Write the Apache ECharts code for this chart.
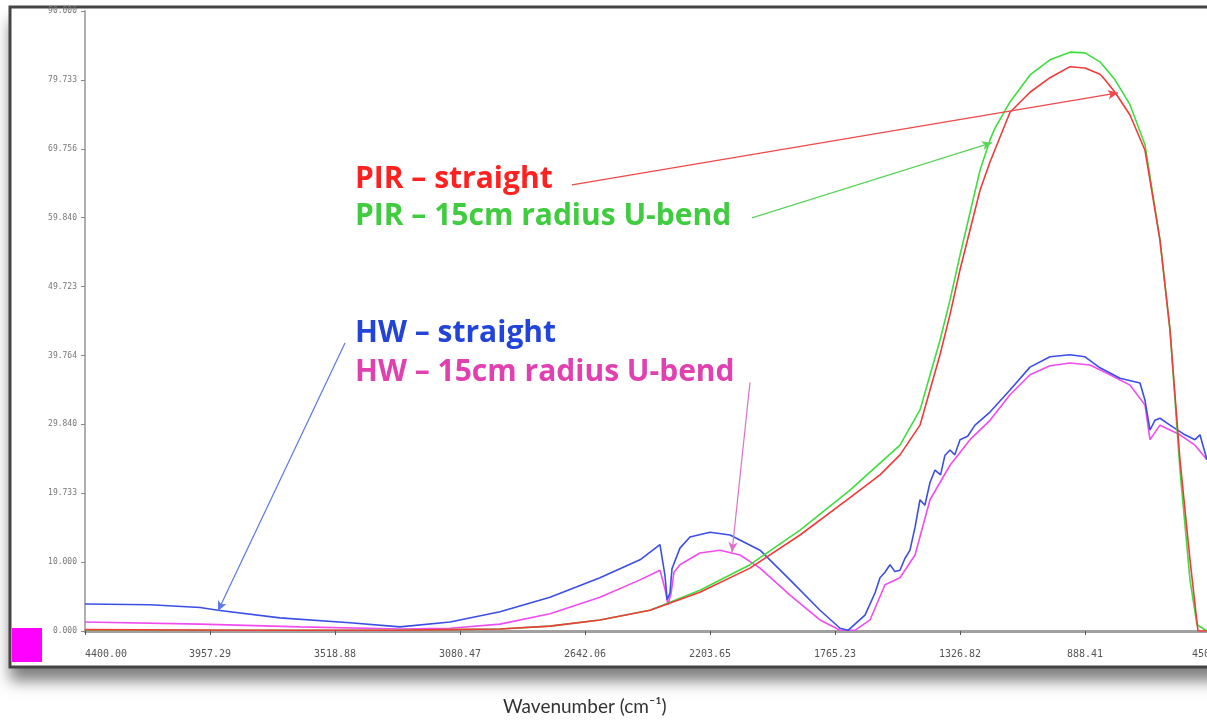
<!DOCTYPE html>
<html>
<head>
<meta charset="utf-8">
<script src="https://cdn.jsdelivr.net/npm/echarts@6/dist/echarts.min.js"></script>
<style>
  html, body { margin: 0; padding: 0; background: #ffffff; }
  #main { width: 1207px; height: 721px; }
</style>
</head>
<body>
<div id="main"></div>
<script>
// tick positions (wavenumber, cm-1) and the labels the instrument printed
var xTickValues = [450, 888.41, 1326.82, 1765.23, 2203.64, 2642.05, 3080.46, 3518.87, 3957.28, 4395.69];
var xTickLabels = ['450.00', '888.41', '1326.82', '1765.23', '2203.65', '2642.06', '3080.47', '3518.88', '3957.29', '4400.00'];
var yTickValues = [0, 9.973, 19.947, 29.92, 39.893, 49.867, 59.84, 69.813, 79.787, 89.76];
var yTickLabels = ['0.000', '10.000', '19.733', '29.840', '39.764', '49.723', '59.840', '69.756', '79.733', '90.000'];

// HW - straight  [wavenumber, value]
var hwStraight = [
  [4395.7, 3.9], [4167.7, 3.8], [3992.3, 3.4], [3929.2, 3.0], [3711.8, 1.9], [3466.3, 1.2],
  [3291.0, 0.6], [3115.3, 1.3], [2940.2, 2.8], [2764.8, 4.9], [2589.5, 7.7], [2449.2, 10.3],
  [2379.1, 12.5], [2372.1, 12.7], [2361.5, 8.0], [2354.0, 4.5], [2344.0, 5.5], [2337.0, 9.0],
  [2309.0, 12.0], [2273.9, 13.6], [2203.6, 14.3], [2133.5, 13.9], [2028.3, 11.7], [1923.0, 7.4],
  [1817.8, 3.0], [1747.6, 0.4], [1719.6, 0.1], [1660.0, 2.3], [1625.0, 5.5], [1607.4, 7.7],
  [1590.0, 8.5], [1572.3, 9.6], [1555.0, 8.6], [1537.3, 8.8], [1520.0, 10.5], [1502.2, 11.7],
  [1484.6, 15.0], [1467.1, 19.0], [1450.0, 18.2], [1432.0, 21.5], [1414.5, 23.3], [1395.0, 22.6],
  [1380.0, 25.4], [1361.9, 26.2], [1345.0, 25.5], [1326.8, 27.7], [1300.0, 28.2], [1274.2, 29.8],
  [1221.6, 31.7], [1151.4, 34.9], [1081.3, 38.2], [1011.2, 39.7], [941.0, 40.0], [888.4, 39.7],
  [835.8, 38.1], [765.7, 36.6], [695.6, 35.9], [678.0, 33.4], [660.5, 29.1], [643.0, 30.5],
  [625.4, 30.8], [590.3, 29.8], [537.7, 28.4], [502.7, 27.7], [485.2, 28.4], [460.6, 24.8]
];

// HW - 15cm radius U-bend
var hwBend = [
  [4395.7, 1.3], [3992.3, 1.0], [3641.6, 0.6], [3291.0, 0.3], [3115.3, 0.4], [2940.2, 1.0],
  [2764.8, 2.5], [2589.5, 4.9], [2449.2, 7.4], [2379.1, 8.8], [2372.1, 9.0], [2361.0, 6.0],
  [2351.0, 3.8], [2340.0, 5.5], [2330.0, 8.5], [2309.0, 9.6], [2238.9, 11.3], [2168.6, 11.7],
  [2098.4, 11.0], [2028.3, 9.1], [1923.0, 5.2], [1817.8, 1.6], [1747.6, 0.1], [1695.1, 0.1],
  [1642.4, 1.6], [1589.9, 6.7], [1537.3, 7.7], [1484.6, 11.0], [1432.0, 19.0], [1361.9, 24.0],
  [1291.7, 27.7], [1221.6, 30.5], [1151.4, 34.2], [1081.3, 37.1], [1011.2, 38.4], [941.0, 38.8],
  [870.9, 38.5], [800.8, 37.1], [730.6, 35.6], [678.0, 32.7], [660.5, 27.7], [625.4, 29.8],
  [555.3, 28.4], [502.7, 26.9], [460.6, 24.8]
];

// PIR - straight
var pirStraight = [
  [4395.7, 0.2], [3800.0, 0.1], [3300.0, 0.1], [3115.3, 0.2], [2940.2, 0.3], [2764.8, 0.7],
  [2589.5, 1.6], [2414.1, 3.0], [2238.9, 5.6], [2063.4, 9.1], [1887.9, 13.9], [1712.6, 19.3],
  [1607.4, 22.6], [1537.3, 25.5], [1467.1, 29.8], [1396.9, 40.0], [1361.9, 45.8], [1326.8, 52.3],
  [1256.6, 63.8], [1221.6, 67.9], [1151.4, 75.1], [1081.3, 78.0], [1011.2, 80.1], [941.0, 81.7],
  [888.4, 81.5], [835.8, 80.6], [818.3, 79.8], [783.2, 78.0], [730.6, 74.7], [678.0, 69.6],
  [625.4, 56.6], [590.3, 43.6], [555.3, 24.8], [520.2, 10.3], [492.1, 0.0], [460.6, 0.0]
];

// PIR - 15cm radius U-bend
var pirBend = [
  [4395.7, 0.1], [3300.0, 0.1], [3115.3, 0.2], [2940.2, 0.3], [2764.8, 0.7], [2589.5, 1.6],
  [2414.1, 3.0], [2238.9, 5.9], [2063.4, 9.6], [1887.9, 14.6], [1712.6, 20.4], [1537.3, 26.9],
  [1467.1, 32.0], [1396.9, 42.1], [1361.9, 47.9], [1326.8, 54.4], [1256.6, 66.7], [1221.6, 71.1],
  [1204.0, 72.8], [1151.4, 76.6], [1081.3, 80.5], [1011.2, 82.7], [941.0, 83.8], [888.4, 83.7],
  [835.8, 82.4], [783.2, 79.8], [730.6, 76.2], [678.0, 70.4], [625.4, 56.6], [590.3, 43.6],
  [555.3, 23.3], [520.2, 7.4], [495.7, 0.9], [460.6, 0.0]
];

// annotation arrows, start -> tip, in data units
var arrowPirStraight = [[2687.6, 64.6], [772.7, 77.9]];
var arrowPirBend = [[2056.3, 59.8], [1214.5, 70.7]];
var arrowHwStraight = [[3483.8, 41.7], [3929.2, 2.9]];
var arrowHwBend = [[2063.4, 36.0], [2126.5, 11.4]];

function arrow(pts, color) {
  return {
    silent: true,
    animation: false,
    symbol: ['none', 'arrow'],
    symbolSize: [7, 10],
    label: { show: false },
    lineStyle: { color: color, width: 1.2, type: 'solid' },
    data: [[{ coord: pts[0] }, { coord: pts[1] }]]
  };
}

var chart = echarts.init(document.getElementById('main'));
var option = {
  animation: false,
  backgroundColor: '#ffffff',
  grid: { left: 85, right: -3, top: 11, bottom: 90, outerBoundsMode: 'none', containLabel: false },
  xAxis: {
    type: 'value',
    inverse: true,
    min: 450,
    max: 4395.69,
    axisLine: { show: true, lineStyle: { color: '#a0a0a0', width: 3 } },
    axisTick: { show: true, length: 4, customValues: xTickValues, lineStyle: { color: '#555' } },
    axisLabel: {
      customValues: xTickValues,
      margin: 18,
      fontSize: 10,
      color: '#555',
      fontFamily: 'DejaVu Sans Mono',
      alignMaxLabel: 'left',
      formatter: function (v) {
        var i = xTickValues.findIndex(function (t) { return Math.abs(t - v) < 1; });
        return i >= 0 ? xTickLabels[i] : '';
      }
    },
    splitLine: { show: false }
  },
  yAxis: {
    type: 'value',
    min: 0,
    max: 89.76,
    axisLine: { show: true, lineStyle: { color: '#b0b0b0', width: 2 } },
    axisTick: { show: true, length: 4, customValues: yTickValues, lineStyle: { color: '#888' } },
    axisLabel: {
      customValues: yTickValues,
      margin: 8,
      fontSize: 8,
      color: '#777',
      fontFamily: 'DejaVu Sans Mono',
      formatter: function (v) {
        var i = yTickValues.findIndex(function (t) { return Math.abs(t - v) < 0.5; });
        return i >= 0 ? yTickLabels[i] : '';
      }
    },
    splitLine: { show: false }
  },
  graphic: [
    {
      type: 'rect', z: -10,
      shape: { x: 10, y: 7, width: 1240, height: 660 },
      style: { fill: '#ffffff', shadowBlur: 14, shadowOffsetY: 14, shadowColor: 'rgba(0,0,0,0.5)' }
    },
    {
      type: 'rect', z: -9,
      shape: { x: 10, y: 7, width: 1240, height: 660 },
      style: { fill: null, stroke: '#444', lineWidth: 3 }
    },
    {
      type: 'rect', z: -5,
      shape: { x: 12, y: 628, width: 30, height: 34 },
      style: { fill: '#ff00ff' }
    },
    {
      type: 'text', left: 355, top: 164,
      style: { text: 'PIR – straight', fill: '#ff2020', font: 'bold 30px "Open Sans"' }
    },
    {
      type: 'text', left: 355, top: 201,
      style: { text: 'PIR – 15cm radius U-bend', fill: '#3fcc3f', font: 'bold 30px "Open Sans"' }
    },
    {
      type: 'text', left: 355, top: 318,
      style: { text: 'HW – straight', fill: '#2244d8', font: 'bold 30px "Open Sans"' }
    },
    {
      type: 'text', left: 355, top: 357,
      style: { text: 'HW – 15cm radius U-bend', fill: '#e040b0', font: 'bold 30px "Open Sans"' }
    },
    {
      type: 'text', left: 503, top: 697,
      style: { text: 'Wavenumber (cm⁻¹)', fill: '#333', font: '19px Lato' }
    }
  ],
  series: [
    {
      name: 'HW – 15cm radius U-bend', type: 'line', data: hwBend, symbol: 'none',
      lineStyle: { color: '#f04cf0', width: 1.6 },
      markLine: arrow(arrowHwBend, '#e070c8')
    },
    {
      name: 'HW – straight', type: 'line', data: hwStraight, symbol: 'none',
      lineStyle: { color: '#3b4fe8', width: 1.6 },
      markLine: arrow(arrowHwStraight, '#5a78e8')
    },
    {
      name: 'PIR – 15cm radius U-bend', type: 'line', data: pirBend, symbol: 'none',
      lineStyle: { color: '#3ede3e', width: 1.6 },
      markLine: arrow(arrowPirBend, '#5ad45a')
    },
    {
      name: 'PIR – straight', type: 'line', data: pirStraight, symbol: 'none',
      lineStyle: { color: '#f23a3a', width: 1.6 },
      markLine: arrow(arrowPirStraight, '#f04848')
    }
  ]
};
chart.setOption(option);
</script>
</body>
</html>
